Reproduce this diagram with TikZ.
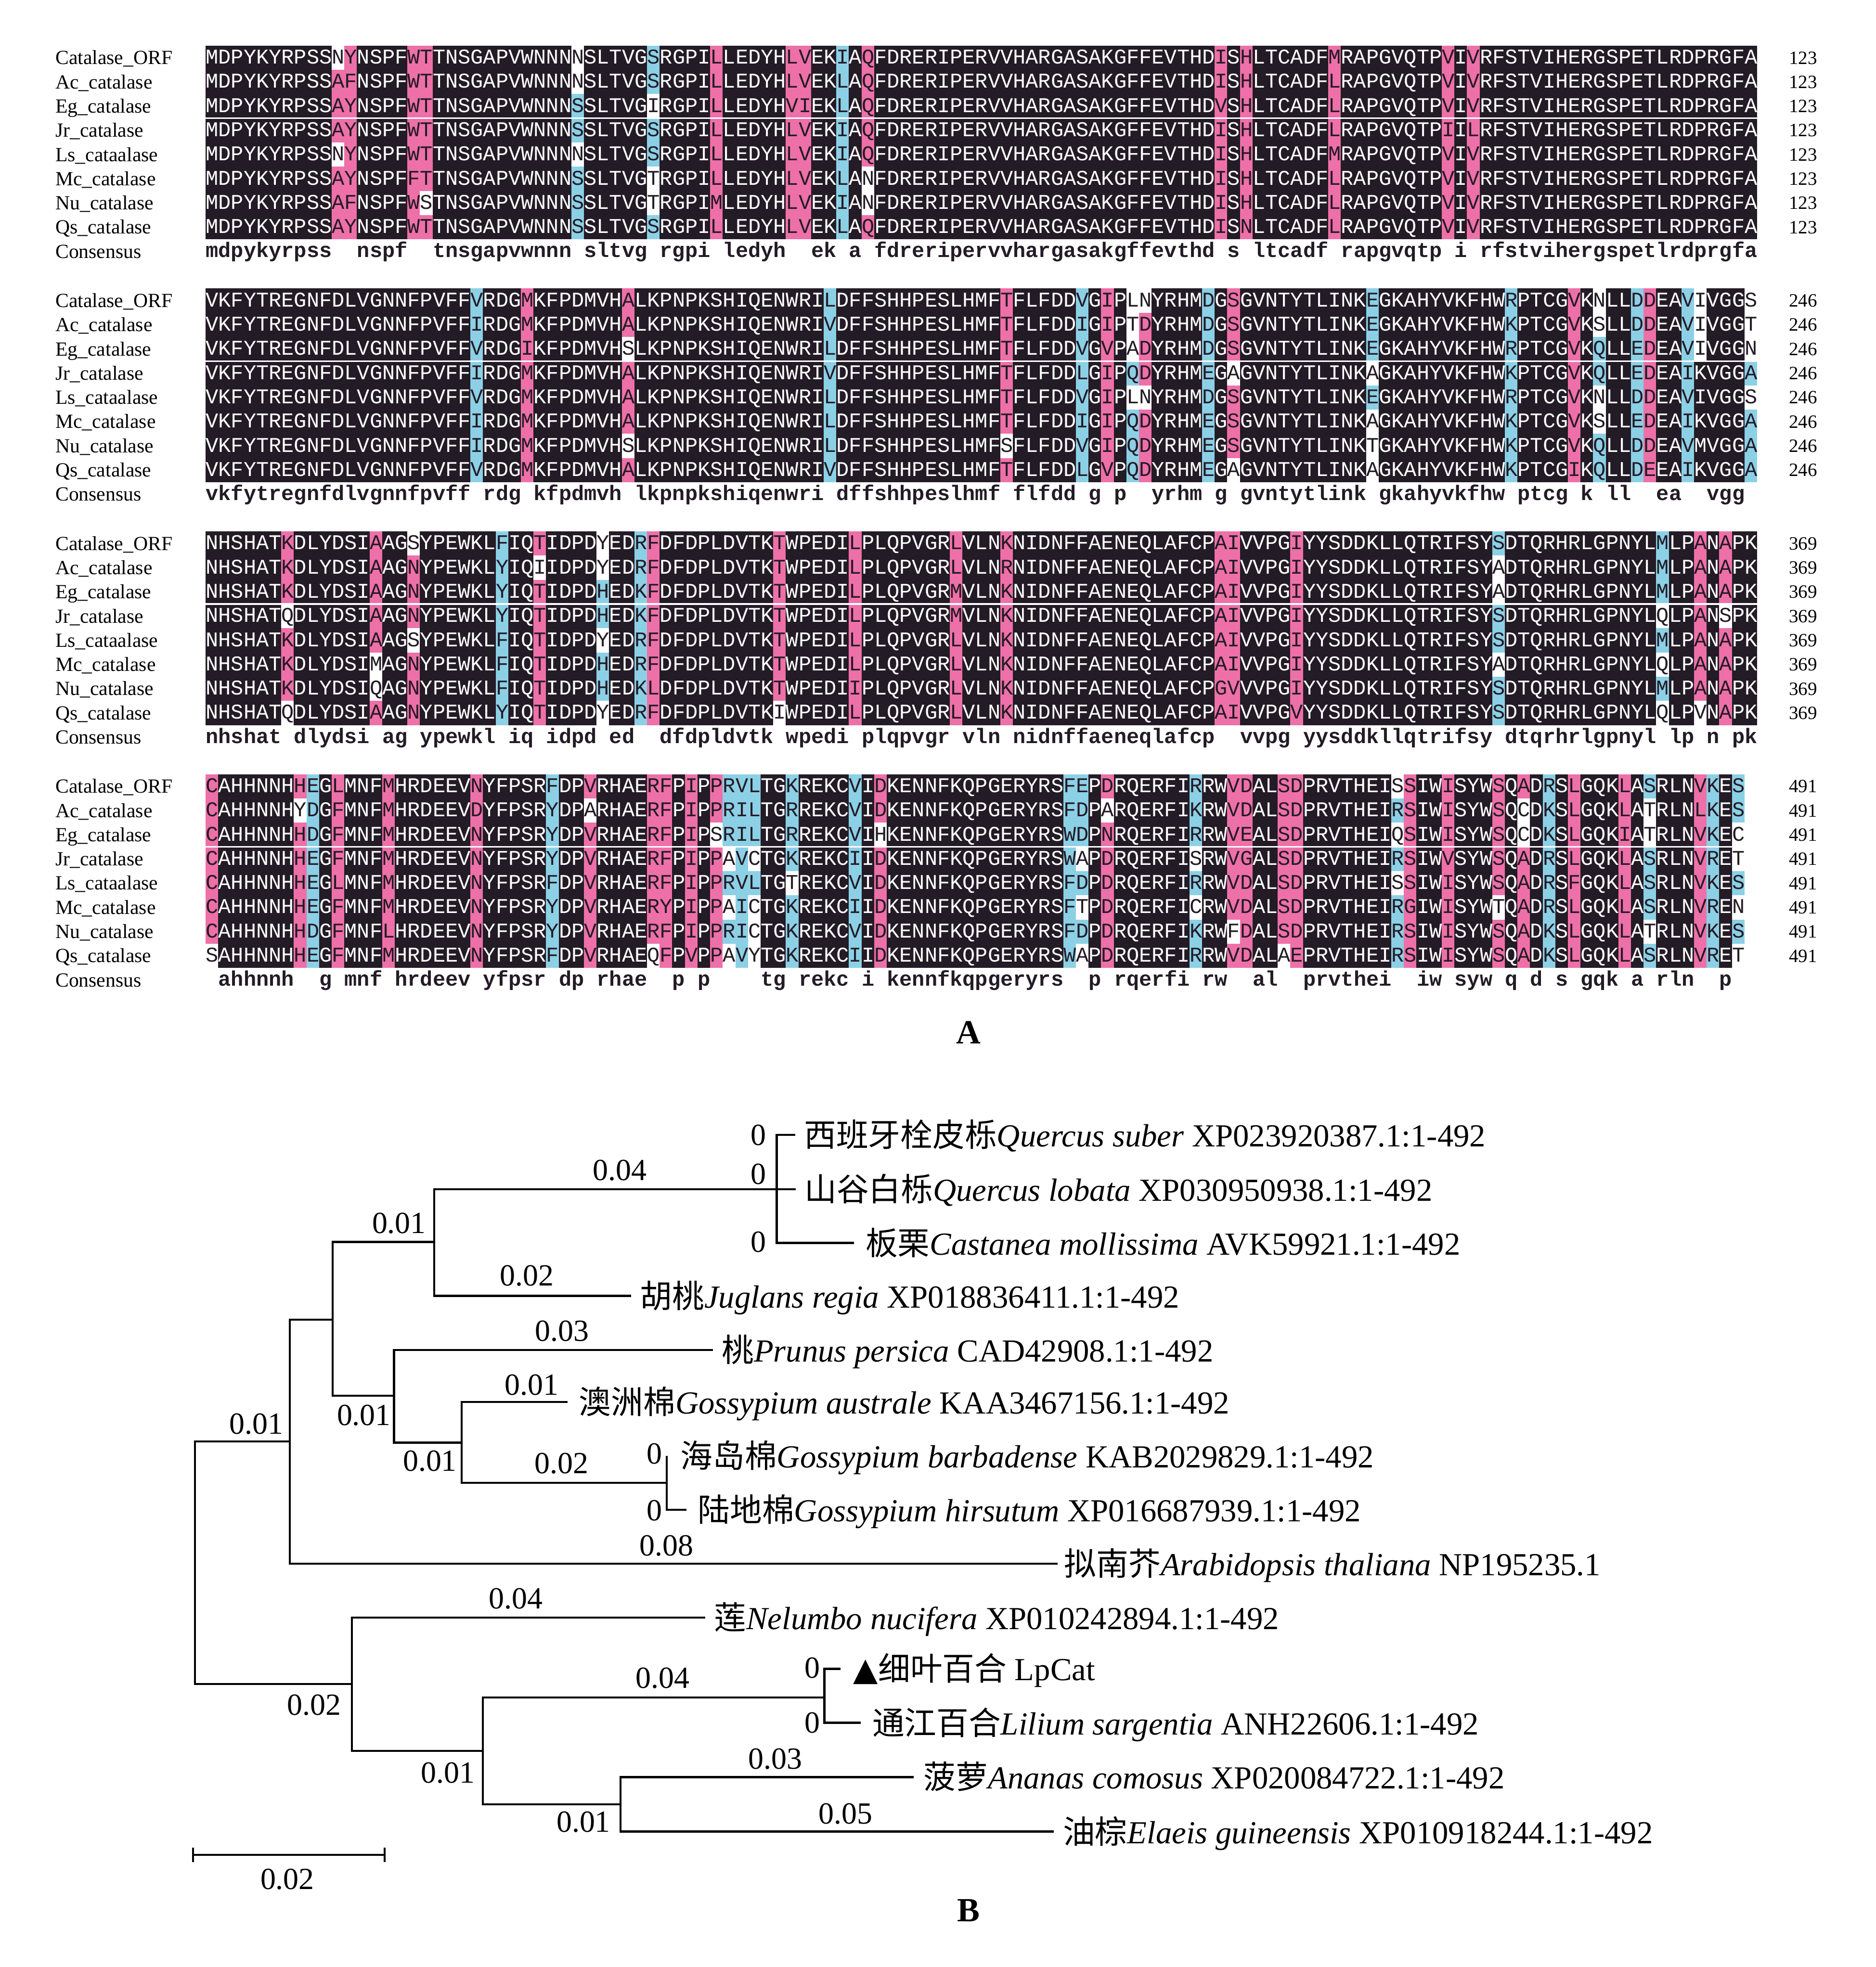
\documentclass[tikz,border=0pt]{standalone}
\usepackage{fontspec}
\usepackage{xstring}
\setmainfont{Liberation Serif}
\setmonofont{Liberation Mono}
\newfontfamily\cjk{Noto Sans CJK SC}
\newfontfamily\symb{DejaVu Sans}
\definecolor{alndark}{RGB}{35,27,37}
\definecolor{alnpink}{RGB}{238,112,168}
\definecolor{alnblue}{RGB}{140,208,230}

\newcommand\alnrow[3]{\expandafter\def\csname aln#1-#2\endcsname{#3}}
\newcommand\alnmarks[2]{\expandafter\def\csname alnmark#1\endcsname{#2}}

% block 1
\alnrow{1}{1}{MDPYKYRPSSNYNSPFWTTNSGAPVWNNNNSLTVGSRGPILLEDYHLVEKIAQFDRERIPERVVHARGASAKGFFEVTHDISHLTCADFMRAPGVQTPVIVRFSTVIHERGSPETLRDPRGFA}
\alnrow{1}{2}{MDPYKYRPSSAFNSPFWTTNSGAPVWNNNNSLTVGSRGPILLEDYHLVEKLAQFDRERIPERVVHARGASAKGFFEVTHDISHLTCADFLRAPGVQTPVIVRFSTVIHERGSPETLRDPRGFA}
\alnrow{1}{3}{MDPYKYRPSSAYNSPFWTTNSGAPVWNNNSSLTVGIRGPILLEDYHVIEKLAQFDRERIPERVVHARGASAKGFFEVTHDVSHLTCADFLRAPGVQTPVIVRFSTVIHERGSPETLRDPRGFA}
\alnrow{1}{4}{MDPYKYRPSSAYNSPFWTTNSGAPVWNNNSSLTVGSRGPILLEDYHLVEKIAQFDRERIPERVVHARGASAKGFFEVTHDISHLTCADFLRAPGVQTPIILRFSTVIHERGSPETLRDPRGFA}
\alnrow{1}{5}{MDPYKYRPSSNYNSPFWTTNSGAPVWNNNNSLTVGSRGPILLEDYHLVEKIAQFDRERIPERVVHARGASAKGFFEVTHDISHLTCADFMRAPGVQTPVIVRFSTVIHERGSPETLRDPRGFA}
\alnrow{1}{6}{MDPYKYRPSSAYNSPFFTTNSGAPVWNNNSSLTVGTRGPILLEDYHLVEKLANFDRERIPERVVHARGASAKGFFEVTHDISHLTCADFLRAPGVQTPVIVRFSTVIHERGSPETLRDPRGFA}
\alnrow{1}{7}{MDPYKYRPSSAFNSPFWSTNSGAPVWNNNSSLTVGTRGPIMLEDYHLVEKIANFDRERIPERVVHARGASAKGFFEVTHDISHLTCADFLRAPGVQTPVIVRFSTVIHERGSPETLRDPRGFA}
\alnrow{1}{8}{MDPYKYRPSSAYNSPFWTTNSGAPVWNNNSSLTVGSRGPILLEDYHLVEKLAQFDRERIPERVVHARGASAKGFFEVTHDISNLTCADFLRAPGVQTPVIVRFSTVIHERGSPETLRDPRGFA}
\alnrow{1}{9}{mdpykyrpss~~nspf~~tnsgapvwnnn~sltvg~rgpi~ledyh~~ek~a~fdreripervvhargasakgffevthd~s~ltcadf~rapgvqtp~i~rfstvihergspetlrdprgfa}
\alnmarks{1}{11/wpppwppp, 12/pppppppp, 17/pppppppp, 18/ppppppwp, 30/wwbbwbbb, 36/bbwbbwwb, 41/pppppppp, 47/pppppppp, 48/pppppppp, 51/bbbbbbbb, 53/pppppwwp, 81/pppppppp, 83/pppppppp, 90/pppppppp, 99/pppppppp, 101/pppppppp}

% block 2
\alnrow{2}{1}{VKFYTREGNFDLVGNNFPVFFVRDGMKFPDMVHALKPNPKSHIQENWRILDFFSHHPESLHMFTFLFDDVGIPLNYRHMDGSGVNTYTLINKEGKAHYVKFHWRPTCGVKNLLDDEAVIVGGS}
\alnrow{2}{2}{VKFYTREGNFDLVGNNFPVFFIRDGMKFPDMVHALKPNPKSHIQENWRIVDFFSHHPESLHMFTFLFDDIGIPTDYRHMDGSGVNTYTLINKEGKAHYVKFHWKPTCGVKSLLDDEAVIVGGT}
\alnrow{2}{3}{VKFYTREGNFDLVGNNFPVFFVRDGIKFPDMVHSLKPNPKSHIQENWRILDFFSHHPESLHMFTFLFDDVGVPADYRHMDGSGVNTYTLINKEGKAHYVKFHWRPTCGVKQLLEDEAVIVGGN}
\alnrow{2}{4}{VKFYTREGNFDLVGNNFPVFFIRDGMKFPDMVHALKPNPKSHIQENWRIVDFFSHHPESLHMFTFLFDDLGIPQDYRHMEGAGVNTYTLINKAGKAHYVKFHWKPTCGVKQLLEDEAIKVGGA}
\alnrow{2}{5}{VKFYTREGNFDLVGNNFPVFFVRDGMKFPDMVHALKPNPKSHIQENWRILDFFSHHPESLHMFTFLFDDVGIPLNYRHMDGSGVNTYTLINKEGKAHYVKFHWRPTCGVKNLLDDEAVIVGGS}
\alnrow{2}{6}{VKFYTREGNFDLVGNNFPVFFIRDGMKFPDMVHALKPNPKSHIQENWRILDFFSHHPESLHMFTFLFDDIGIPQDYRHMEGSGVNTYTLINKAGKAHYVKFHWKPTCGVKSLLEDEAIKVGGA}
\alnrow{2}{7}{VKFYTREGNFDLVGNNFPVFFIRDGMKFPDMVHSLKPNPKSHIQENWRILDFFSHHPESLHMFSFLFDDVGIPQDYRHMEGSGVNTYTLINKTGKAHYVKFHWKPTCGVKQLLDDEAVMVGGA}
\alnrow{2}{8}{VKFYTREGNFDLVGNNFPVFFVRDGMKFPDMVHALKPNPKSHIQENWRIVDFFSHHPESLHMFTFLFDDLGVPQDYRHMEGAGVNTYTLINKAGKAHYVKFHWKPTCGIKQLLDEEAIKVGGA}
\alnrow{2}{9}{vkfytregnfdlvgnnfpvff~rdg~kfpdmvh~lkpnpkshiqenwri~dffshhpeslhmf~flfdd~g~p~~yrhm~g~gvntytlink~gkahyvkfhw~ptcg~k~ll~~ea~~vgg~}
\alnmarks{2}{22/bbbbbbbb, 26/pppppppp, 34/ppwpppwp, 50/bbbbbbbb, 64/ppppppwp, 70/bbbbbbbb, 72/pppppppp, 74/wwwbwbbb, 75/wpppwppp, 80/bbbbbbbb, 82/pppwpppw, 93/bbbwbwww, 104/bbbbbbbb, 109/pppppppp, 111/wwbbwwbb, 114/bbbbbbbb, 115/pppppppp, 118/bbbbbbbb, 119/wwwddddd, 123/wwwbwbbb}

% block 3
\alnrow{3}{1}{NHSHATKDLYDSIAAGSYPEWKLFIQTIDPDYEDRFDFDPLDVTKTWPEDILPLQPVGRLVLNKNIDNFFAENEQLAFCPAIVVPGIYYSDDKLLQTRIFSYSDTQRHRLGPNYLMLPANAPK}
\alnrow{3}{2}{NHSHATKDLYDSIAAGNYPEWKLYIQIIDPDYEDRFDFDPLDVTKTWPEDILPLQPVGRLVLNRNIDNFFAENEQLAFCPAIVVPGIYYSDDKLLQTRIFSYADTQRHRLGPNYLMLPANAPK}
\alnrow{3}{3}{NHSHATKDLYDSIAAGNYPEWKLYIQTIDPDHEDKFDFDPLDVTKTWPEDILPLQPVGRMVLNKNIDNFFAENEQLAFCPAIVVPGIYYSDDKLLQTRIFSYADTQRHRLGPNYLMLPANAPK}
\alnrow{3}{4}{NHSHATQDLYDSIAAGNYPEWKLYIQTIDPDHEDKFDFDPLDVTKTWPEDILPLQPVGRMVLNKNIDNFFAENEQLAFCPAIVVPGIYYSDDKLLQTRIFSYSDTQRHRLGPNYLQLPANSPK}
\alnrow{3}{5}{NHSHATKDLYDSIAAGSYPEWKLFIQTIDPDYEDRFDFDPLDVTKTWPEDILPLQPVGRLVLNKNIDNFFAENEQLAFCPAIVVPGIYYSDDKLLQTRIFSYSDTQRHRLGPNYLMLPANAPK}
\alnrow{3}{6}{NHSHATKDLYDSIMAGNYPEWKLFIQTIDPDHEDRFDFDPLDVTKTWPEDILPLQPVGRLVLNKNIDNFFAENEQLAFCPAIVVPGIYYSDDKLLQTRIFSYADTQRHRLGPNYLQLPANAPK}
\alnrow{3}{7}{NHSHATKDLYDSIQAGNYPEWKLFIQTIDPDHEDKLDFDPLDVTKTWPEDIIPLQPVGRLVLNKNIDNFFAENEQLAFCPGVVVPGIYYSDDKLLQTRIFSYSDTQRHRLGPNYLMLPANAPK}
\alnrow{3}{8}{NHSHATQDLYDSIAAGNYPEWKLYIQTIDPDYEDRFDFDPLDVTKIWPEDILPLQPVGRLVLNKNIDNFFAENEQLAFCPAIVVPGVYYSDDKLLQTRIFSYSDTQRHRLGPNYLQLPVNAPK}
\alnrow{3}{9}{nhshat~dlydsi~ag~ypewkl~iq~idpd~ed~~dfdpldvtk~wpedi~plqpvgr~vln~nidnffaeneqlafcp~~vvpg~yysddkllqtrifsy~dtqrhrlgpnyl~lp~n~pk}
\alnmarks{3}{7/pppwpppw, 14/pppppwwp, 17/wpppwppp, 24/bbbbbbbb, 27/pwpppppp, 32/wwbbwbbw, 35/bbbbbbbb, 36/pppppppp, 46/pppppppw, 52/pppppppp, 60/pppppppp, 64/pppppppp, 81/pppppppp, 82/pppppppp, 87/pppppppp, 103/bwwbbwbb, 116/bbbwbwbw, 119/pppppppw, 121/pppwpppp}

% block 4
\alnrow{4}{1}{CAHHNNHHEGLMNFMHRDEEVNYFPSRFDPVRHAERFPIPPRVLTGKREKCVIDKENNFKQPGERYRSFEPDRQERFIRRWVDALSDPRVTHEISSIWISYWSQADRSLGQKLASRLNVKES}
\alnrow{4}{2}{CAHHNNHYDGFMNFMHRDEEVDYFPSRYDPARHAERFPIPPRILTGRREKCVIDKENNFKQPGERYRSFDPARQERFIKRWVDALSDPRVTHEIRSIWISYWSQCDKSLGQKLATRLNLKES}
\alnrow{4}{3}{CAHHNNHHDGFMNFMHRDEEVNYFPSRYDPVRHAERFPIPSRILTGRREKCVIHKENNFKQPGERYRSWDPNRQERFIRRWVEALSDPRVTHEIQSIWISYWSQCDKSLGQKIATRLNVKEC}
\alnrow{4}{4}{CAHHNNHHEGFMNFMHRDEEVNYFPSRYDPVRHAERFPIPPAVCTGKREKCIIDKENNFKQPGERYRSWAPDRQERFISRWVGALSDPRVTHEIRSIWVSYWSQADRSLGQKLASRLNVRET}
\alnrow{4}{5}{CAHHNNHHEGLMNFMHRDEEVNYFPSRFDPVRHAERFPIPPRVLTGTREKCVIDKENNFKQPGERYRSFDPDRQERFIRRWVDALSDPRVTHEISSIWISYWSQADRSFGQKLASRLNVKES}
\alnrow{4}{6}{CAHHNNHHEGFMNFMHRDEEVNYFPSRYDPVRHAERYPIPPAICTGKREKCIIDKENNFKQPGERYRSFTPDRQERFICRWVDALSDPRVTHEIRGIWISYWTQADRSLGQKLASRLNVREN}
\alnrow{4}{7}{CAHHNNHHDGFMNFLHRDEEVNYFPSRYDPVRHAERFPIPPRICTGKREKCVIDKENNFKQPGERYRSFDPDRQERFIKRWFDALSDPRVTHEIRSIWISYWSQADKSLGQKLATRLNVKES}
\alnrow{4}{8}{SAHHNNHHEGFMNFMHRDEEVNYFPSRFDPVRHAEQFPVPPAVYTGKREKCIIDKENNFKQPGERYRSWAPDRQERFIRRWVDALAEPRVTHEIRSIWISYWSQADKSLGQKLASRLNVRET}
\alnrow{4}{9}{~ahhnnh~~g~mnf~hrdeev~yfpsr~dp~rhae~~p~p~~~~tg~rekc~i~kennfkqpgeryrs~~p~rqerfi~rw~~al~~prvthei~~iw~syw~q~d~s~gqk~a~rln~~p~}
\alnmarks{4}{1/pppppppw, 8/pwpppppp, 9/bbbbbbbb, 11/pppppppp, 15/pppppppp, 22/pppppppp, 28/bbbbbbbb, 31/pwpppppp, 36/pppppppw, 37/pppppppp, 39/pppppppp, 41/ppwppppp, 42/bbbwbwbw, 43/bbbbbbbb, 44/bbbwbwww, 47/bbbbwbbb, 52/bbbbbbbb, 54/ppwppppp, 69/bbbbbbbb, 70/bbbwbwbw, 72/pwpppppp, 79/bbbwbwbb, 82/ppppppwp, 83/pppppppp, 86/pppppppw, 87/pppppppp, 95/wbwbwbbb, 96/pppppppp, 99/pppppppp, 103/pppppwpp, 105/pwwppppp, 107/bbbbbbbb, 109/pppppppp, 113/pppppppp, 115/bwwbbbwb, 119/pppppppp, 120/bbbbbbbb, 122/bbwwbwbw}

\tikzset{
  seqtxt/.style={anchor=west, inner sep=0pt, text height=9.6pt, text depth=0pt,
    font=\ttfamily\fontsize{16.755}{18}\selectfont},
  constxt/.style={seqtxt, text=alndark,
    font=\ttfamily\bfseries\fontsize{16.755}{18}\selectfont},
  rowlab/.style={anchor=west, inner sep=0pt, text height=10.6pt, text depth=0pt,
    font=\fontsize{16}{18}\selectfont},
  numlab/.style={inner sep=0pt, text height=10pt, text depth=0pt,
    font=\fontsize{15}{17}\selectfont},
  branch/.style={line width=1.6pt},
  blen/.style={inner sep=0pt, font=\fontsize{24.5}{26}\selectfont},
  leaf/.style={anchor=base west, inner sep=0pt, yshift=-9.4pt,
    font=\fontsize{25.6}{27}\selectfont},
  panel/.style={inner sep=0pt, font=\bfseries\fontsize{27}{29}\selectfont}
}

\begin{document}
\begin{tikzpicture}[x=1pt, y=-1pt]
    \useasboundingbox (0,0) rectangle (1495,1568);
    \fill[white] (0,0) rectangle (1495,1568);

    % A: alignment blocks
    \foreach \blk/\ncol/\endno in {1/123/123, 2/123/246, 3/123/369, 4/122/491} {
            \pgfmathsetmacro\btop{36.4+193.6*(\blk-1)}
            \fill[alndark] (163.8,\btop) rectangle ++({\ncol*10.053},{8*19.3});
            \expandafter\let\expandafter\colmarks\csname alnmark\blk\endcsname
            \foreach \rw/\lab in {1/Catalase\_ORF, 2/Ac\_catalase, 3/Eg\_catalase, 4/Jr\_catalase,
                    5/Ls\_cataalase, 6/Mc\_catalase, 7/Nu\_catalase, 8/Qs\_catalase} {
                    \pgfmathsetmacro\ymid{\btop+(\rw-0.5)*19.3}
                    \node[rowlab] (lab\blk-\rw) at (44,\ymid) {\lab};
                    \node[numlab] (num\blk-\rw) at (1437,\ymid) {\endno};
                    \edef\rowstr{\csname aln\blk-\rw\endcsname}
                    \xdef\prevcol{1}
                    \foreach \colno/\colset in \colmarks {
                            \StrChar{\colset}{\rw}[\cellc]%
                            \StrChar{\rowstr}{\colno}[\cellch]%
                            % plain run before the marked column
                            \ifnum\colno>\prevcol\relax
                                \pgfmathtruncatemacro\lastc{\colno-1}
                                \StrMid{\rowstr}{\prevcol}{\lastc}[\segtxt]%
                                \node[seqtxt, text=white] (s\blk-\rw-\prevcol)
                                at ({163.8+(\prevcol-1)*10.053},\ymid) {\segtxt};
                            \fi
                            \if d\cellc
                                \node[seqtxt, text=white] (c\blk-\rw-\colno)
                                at ({163.8+(\colno-1)*10.053},\ymid) {\cellch};
                            \else
                                \if p\cellc \def\fillc{alnpink}\fi
                                \if b\cellc \def\fillc{alnblue}\fi
                                \if w\cellc \def\fillc{white}\fi
                                \fill[\fillc] ({163.8+(\colno-1)*10.053},{\btop+(\rw-1)*19.3})
                                rectangle ++(10.053,19.3);
                                \node[seqtxt, text=alndark] (c\blk-\rw-\colno)
                                at ({163.8+(\colno-1)*10.053},\ymid) {\cellch};
                            \fi
                            \pgfmathtruncatemacro\nextc{\colno+1}
                            \xdef\prevcol{\nextc}
                        }
                    \ifnum\prevcol>\ncol\relax\else
                        \StrMid{\rowstr}{\prevcol}{\ncol}[\segtxt]%
                        \node[seqtxt, text=white] (s\blk-\rw-\prevcol)
                        at ({163.8+(\prevcol-1)*10.053},\ymid) {\segtxt};
                    \fi
                }
            \draw[white, line width=1.2pt] (163.8,{\btop+3*19.3}) -- ++({\ncol*10.053},0);
            \node[rowlab] (lab\blk-9) at (44,{\btop+8.5*19.3}) {Consensus};
            \node[constxt] (cons\blk) at (163.8,{\btop+8.5*19.3}) {\csname aln\blk-9\endcsname};
        }

    \node[panel] (panelA) at (772,823) {A};

    % B: tree
    \foreach \n/\x/\y in {root/155.5/1245, nA/231/1149, nMon/280.6/1342.3, nB/265/1052,
            nFag/346/990, nPru/314/1112.7, nQue/619/948, nGos/368/1150, nGb/531.2/1182,
            nLm/384.9/1395.7, nLil/657/1353.1, nPal/494.6/1438.2,
            tSub/633.7/904.6, tLob/634/948, tCas/680.7/990.8, tJug/503/1033,
            tPru/568/1076, tAus/452.3/1117.5, tBar/531.2/1160.7, tHir/547/1203.4,
            tAra/843/1246.4, tNel/562/1289.6, tLp/670/1330.3, tSar/686/1373.3,
            tAna/728/1416.6, tEla/840/1460}
        \coordinate (\n) at (\x,\y);

    \foreach \p/\c in {root/nA, root/nMon, nA/nB, nA/tAra, nB/nFag, nB/nPru,
            nFag/nQue, nFag/tJug, nQue/tSub, nQue/tLob, nQue/tCas,
            nPru/tPru, nPru/nGos, nGos/tAus, nGos/nGb, nGb/tBar, nGb/tHir,
            nMon/tNel, nMon/nLm, nLm/nLil, nLm/nPal, nLil/tLp, nLil/tSar,
            nPal/tAna, nPal/tEla}
        \draw[branch] (\p) |- (\c);

    \foreach \x/\y/\v [count=\i] in {204.2/1135/0.01, 318/975/0.01, 494/933/0.04,
            420/1017/0.02, 448/1061/0.03, 290/1128.3/0.01, 423.7/1104/0.01,
            342.6/1164.8/0.01, 447.5/1166.7/0.02, 521.7/1159/0, 521.7/1204/0,
            531/1232.3/0.08, 604.5/905/0, 604.5/936/0, 604.5/990/0,
            411/1274.2/0.04, 250.4/1359.3/0.02, 528/1337.7/0.04, 647.4/1329.4/0,
            647.4/1373.2/0, 356.9/1413.3/0.01, 465/1452.5/0.01, 618/1402/0.03,
            674/1446/0.05}
        \node[blen] (bl\i) at (\x,\y) {\v};

    \foreach \t/\dx/\txt in {
            tSub/7/{{\cjk 西班牙栓皮栎}\textit{Quercus suber} XP023920387.1:1-492},
            tLob/7/{{\cjk 山谷白栎}\textit{Quercus lobata} XP030950938.1:1-492},
            tCas/9/{{\cjk 板栗}\textit{Castanea mollissima} AVK59921.1:1-492},
            tJug/7/{{\cjk 胡桃}\textit{Juglans regia} XP018836411.1:1-492},
            tPru/7/{{\cjk 桃}\textit{Prunus persica} CAD42908.1:1-492},
            tAus/9/{{\cjk 澳洲棉}\textit{Gossypium australe} KAA3467156.1:1-492},
            tBar/11/{{\cjk 海岛棉}\textit{Gossypium barbadense} KAB2029829.1:1-492},
            tHir/9/{{\cjk 陆地棉}\textit{Gossypium hirsutum} XP016687939.1:1-492},
            tAra/5/{{\cjk 拟南芥}\textit{Arabidopsis thaliana} NP195235.1},
            tNel/7/{{\cjk 莲}\textit{Nelumbo nucifera} XP010242894.1:1-492},
            tLp/10/{{\symb ▲}{\cjk 细叶百合} LpCat},
            tSar/9/{{\cjk 通江百合}\textit{Lilium sargentia} ANH22606.1:1-492},
            tAna/8/{{\cjk 菠萝}\textit{Ananas comosus} XP020084722.1:1-492},
            tEla/7/{{\cjk 油棕}\textit{Elaeis guineensis} XP010918244.1:1-492}}
        \node[leaf, xshift=\dx pt] (l\t) at (\t) {\txt};

    % scale bar
    \coordinate (sbL) at (154,1478.7);
    \coordinate (sbR) at (306.6,1478.7);
    \draw[branch] (sbL) -- (sbR);
    \draw[branch] ([yshift=5.7pt]sbL) -- ([yshift=-5.7pt]sbL);
    \draw[branch] ([yshift=5.7pt]sbR) -- ([yshift=-5.7pt]sbR);
    \node[blen] (sblab) at (229,1498) {0.02};

    \node[panel] (panelB) at (772,1523) {B};

\end{tikzpicture}
\end{document}
